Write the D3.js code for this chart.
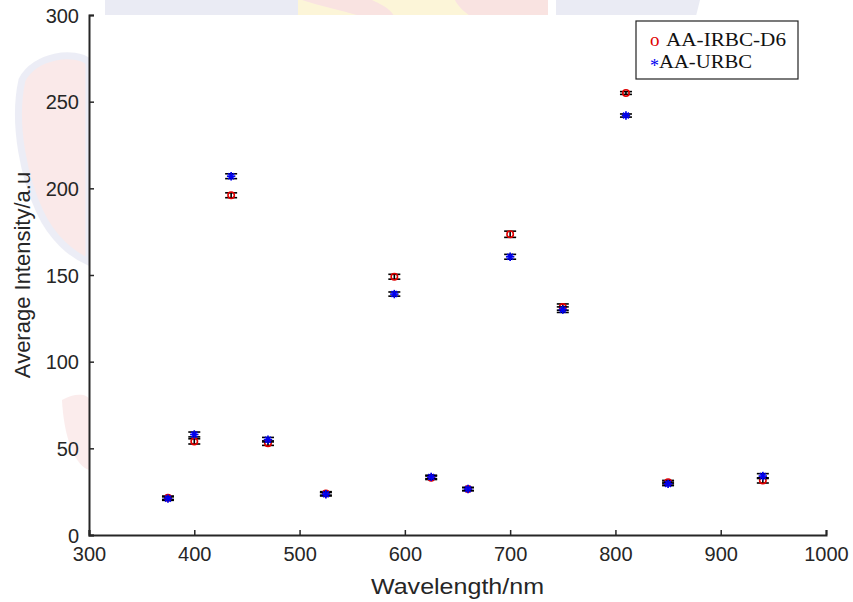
<!DOCTYPE html>
<html>
<head>
<meta charset="utf-8">
<script src="https://cdn.jsdelivr.net/npm/d3@7"></script>
<style>
  html, body { margin: 0; padding: 0; background: #fff; }
  svg { display: block; }
  .tick text { font-family: "Liberation Sans", Arial, sans-serif; }
</style>
</head>
<body>
<svg id="chart" width="853" height="602"></svg>
<script>
// Wavelengths of the illumination bands (nm)
const wavelengths = [375, 400, 435, 470, 525, 590, 625, 660, 700, 750, 810, 850, 940];
// Average intensity, infected red blood cells (D6)
const irbc    = [21.5, 54, 196, 53, 24, 149, 33, 26.5, 173.5, 131.5, 255, 30.5, 31.5];
const irbcErr = [1.0, 1.5, 1.4, 1.3, 1.0, 1.4, 1.0, 0.9, 1.8, 1.8, 0.8, 1.0, 1.5];
// Average intensity, uninfected red blood cells
const urbc    = [21, 58, 207, 55, 23.5, 139, 33.5, 26.5, 160.5, 130, 242, 29.5, 34];
const urbcErr = [1.0, 1.4, 1.4, 1.3, 1.0, 1.2, 1.0, 0.9, 1.4, 1.6, 0.9, 1.0, 1.4];

const xTicks = [300, 400, 500, 600, 700, 800, 900, 1000];
const yTicks = [0, 50, 100, 150, 200, 250, 300];
const legendLabels = ["AA-IRBC-D6", "AA-URBC"];

const svg = d3.select("#chart");
const M = { left: 89, right: 826, top: 15, bottom: 535 };

const x = d3.scaleLinear().domain([300, 1000]).range([M.left, M.right]);
const y = d3.scaleLinear().domain([0, 300]).range([M.bottom, M.top]);

// faint backdrop emblem, visible only around the axes
const bg = svg.append("g").attr("class", "backdrop").attr("opacity", 0.75);
bg.append("path")
  .attr("d", "M105,0 L300,0 L300,16 L105,16 Z")
  .attr("fill", "#e3e5f1");
bg.append("path")
  .attr("d", "M556,0 L700,0 L696,16 L556,16 Z")
  .attr("fill", "#e3e5f1");
bg.append("path")
  .attr("d", "M298,0 L548,0 L548,16 L298,16 Z")
  .attr("fill", "#fcf2cc");
bg.append("path")
  .attr("d", "M302,0 C320,6 340,10 360,16 L394,16 C390,8 380,4 372,0 Z")
  .attr("fill", "#f7dad8");
bg.append("path")
  .attr("d", "M455,0 L548,0 L548,16 L470,16 C462,10 458,6 455,0 Z")
  .attr("fill", "#f7dad8");
bg.append("path")
  .attr("d", "M22,80 C35,55 75,50 89,62 L89,262 C72,255 52,238 40,212 C25,180 12,125 22,80 Z")
  .attr("fill", "#f9e2e2").attr("stroke", "#e6e8f3").attr("stroke-width", 7);
bg.append("path")
  .attr("d", "M62,400 C75,392 89,394 89,400 L89,470 C76,466 64,440 62,400 Z")
  .attr("fill", "#fae6e6");

// white plotting area
svg.append("rect")
  .attr("x", M.left).attr("y", M.top)
  .attr("width", M.right - M.left).attr("height", M.bottom - M.top)
  .attr("fill", "#fff");

// axes, ticks pointing inward
const xAxis = d3.axisBottom(x).tickValues(xTicks).tickSize(-5).tickPadding(12).tickFormat(d3.format("d"));
const yAxis = d3.axisLeft(y).tickValues(yTicks).tickSize(-5).tickPadding(10).tickFormat(d3.format("d"));

const gx = svg.append("g").attr("transform", `translate(0,${M.bottom})`).call(xAxis);
const gy = svg.append("g").attr("transform", `translate(${M.left},0)`).call(yAxis);
[gx, gy].forEach(g => {
  g.select(".domain").attr("stroke", "#262626").attr("stroke-width", 2);
  g.selectAll(".tick line").attr("stroke", "#262626").attr("stroke-width", 1.5);
  g.selectAll(".tick text").attr("fill", "#262626").attr("font-size", 20);
});
gy.selectAll(".tick text").attr("dy", "0.35em");

svg.append("text")
  .attr("x", 371).attr("y", 594)
  .attr("textLength", 173).attr("lengthAdjust", "spacingAndGlyphs")
  .attr("font-family", "Liberation Sans, Arial, sans-serif")
  .attr("font-size", 22).attr("fill", "#262626")
  .text("Wavelength/nm");

svg.append("text")
  .attr("transform", `translate(30,${(M.top + M.bottom) / 2}) rotate(-90)`)
  .attr("text-anchor", "middle")
  .attr("font-family", "Liberation Sans, Arial, sans-serif")
  .attr("font-size", 22).attr("fill", "#262626")
  .text("Average Intensity/a.u");

// error bars + markers
function drawSeries(vals, errs, kind, color) {
  const data = wavelengths.map((w, i) => ({ w, v: vals[i], e: errs[i] }));
  const g = svg.append("g");
  const eb = g.selectAll(".eb").data(data).join("g").attr("stroke", "#000").attr("stroke-width", 1.6);
  eb.append("line")
    .attr("x1", d => x(d.w)).attr("x2", d => x(d.w))
    .attr("y1", d => y(d.v - d.e)).attr("y2", d => y(d.v + d.e));
  [-1, 1].forEach(s => {
    eb.append("line")
      .attr("x1", d => x(d.w) - 6).attr("x2", d => x(d.w) + 6)
      .attr("y1", d => y(d.v + s * d.e)).attr("y2", d => y(d.v + s * d.e));
  });
  if (kind === "circle") {
    g.selectAll(".mk").data(data).join("circle")
      .attr("cx", d => x(d.w)).attr("cy", d => y(d.v)).attr("r", 3.2)
      .attr("fill", "none").attr("stroke", color).attr("stroke-width", 1.6);
  } else {
    const s = 4.2;
    const mk = g.selectAll(".mk").data(data).join("g")
      .attr("transform", d => `translate(${x(d.w)},${y(d.v)})`)
      .attr("stroke", color).attr("stroke-width", 1.7);
    mk.append("line").attr("x1", -s).attr("x2", s).attr("y1", 0).attr("y2", 0);
    mk.append("line").attr("x1", 0).attr("x2", 0).attr("y1", -s).attr("y2", s);
    mk.append("line").attr("x1", -s * 0.7).attr("x2", s * 0.7).attr("y1", -s * 0.7).attr("y2", s * 0.7);
    mk.append("line").attr("x1", -s * 0.7).attr("x2", s * 0.7).attr("y1", s * 0.7).attr("y2", -s * 0.7);
  }
}
drawSeries(irbc, irbcErr, "circle", "#e00000");
drawSeries(urbc, urbcErr, "star", "#0000f0");

// legend
const lg = svg.append("g");
lg.append("rect").attr("x", 636).attr("y", 21).attr("width", 162).attr("height", 58)
  .attr("fill", "#fff").attr("stroke", "#222").attr("stroke-width", 1.2);
const serif = "Liberation Serif, Times New Roman, serif";
lg.append("text").attr("x", 650).attr("y", 46).attr("font-family", serif).attr("font-size", 19)
  .attr("fill", "#e00000").text("o");
lg.append("text").attr("x", 666).attr("y", 46).attr("font-family", serif).attr("font-size", 19)
  .attr("textLength", 120).attr("lengthAdjust", "spacingAndGlyphs")
  .attr("fill", "#111").text(legendLabels[0]);
lg.append("text").attr("x", 650).attr("y", 72).attr("font-family", serif).attr("font-size", 18)
  .attr("fill", "#0000f0").text("*");
lg.append("text").attr("x", 659).attr("y", 68).attr("font-family", serif).attr("font-size", 19)
  .attr("textLength", 93).attr("lengthAdjust", "spacingAndGlyphs")
  .attr("fill", "#111").text(legendLabels[1]);
</script>
</body>
</html>
